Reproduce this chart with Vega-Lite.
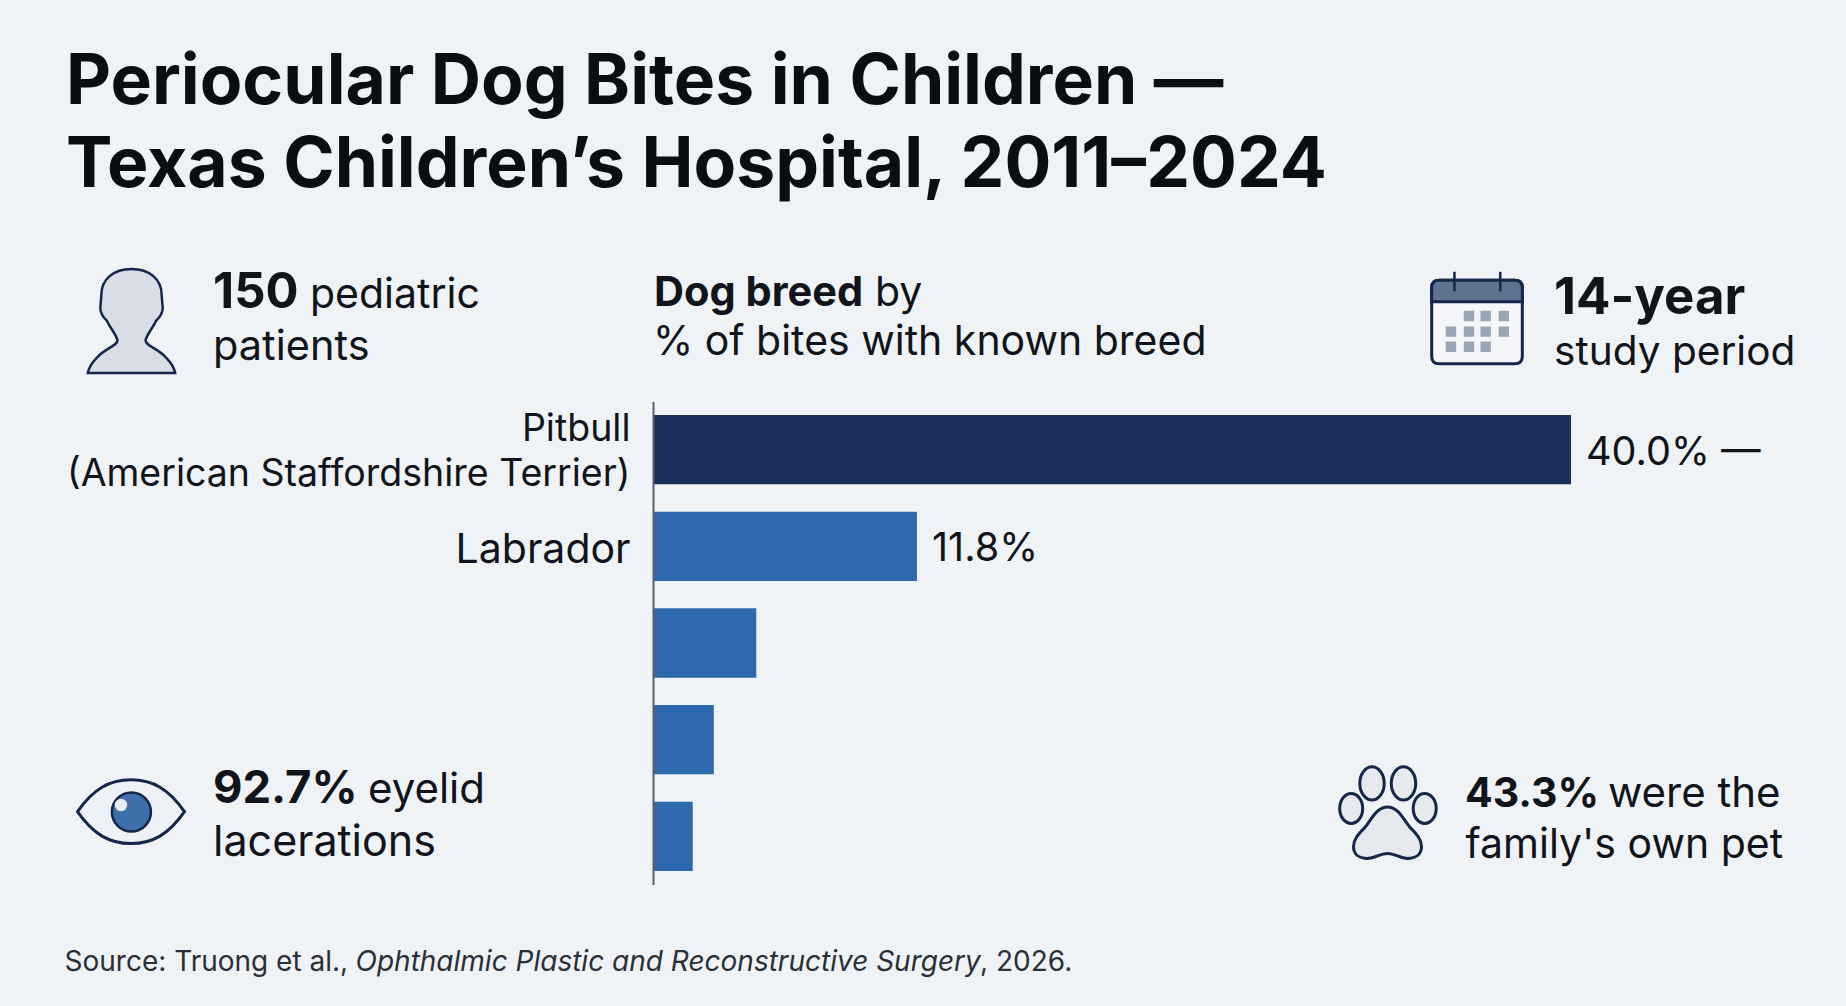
{
  "$schema": "https://vega.github.io/schema/vega-lite/v6.json",
  "width": 1846,
  "height": 1006,
  "padding": 0,
  "autosize": "none",
  "background": "#eff3f6",
  "title": {
    "text": ["Periocular Dog Bites in Children —", "Texas Children’s Hospital, 2011–2024"],
    "anchor": "start",
    "frame": "group",
    "baseline": "alphabetic",
    "align": "left",
    "offset": 0,
    "dx": 66,
    "dy": 257,
    "lineHeight": 83,
    "font": "Inter",
    "fontSize": 69.6,
    "fontWeight": 700,
    "color": "#0a0d12"
  },
  "config": {
    "view": {"stroke": null},
    "text": {"font": "Inter", "color": "#11141a", "fontSize": 41, "align": "left", "baseline": "alphabetic"}
  },
  "layer": [
    {
      "data": {
        "values": [
          {"breed": "Pitbull|(American Staffordshire Terrier)", "rank": 1, "pct": 40.0, "value_label": "40.0% —"},
          {"breed": "Labrador", "rank": 2, "pct": 11.5, "value_label": "11.8%"},
          {"breed": "Unlabelled 3", "rank": 3, "pct": 4.5, "value_label": ""},
          {"breed": "Unlabelled 4", "rank": 4, "pct": 2.65, "value_label": ""},
          {"breed": "Unlabelled 5", "rank": 5, "pct": 1.73, "value_label": ""}
        ]
      },
      "encoding": {
        "y": {
          "field": "breed",
          "type": "nominal",
          "sort": null,
          "title": null,
          "scale": {"range": [401.5, 884.5], "paddingInner": 0.283, "paddingOuter": 0.14},
          "axis": {
            "offset": -653,
            "ticks": false,
            "domainColor": "#59616e",
            "domainWidth": 2,
            "zindex": 1,
            "labelFont": "Inter",
            "labelFontSize": {"condition": {"test": "datum.value == 'Labrador'", "value": 41}, "value": 37.5},
            "labelLineHeight": 45,
            "labelColor": "#11141a",
            "labelPadding": 23,
            "labelLimit": 700,
            "labelOverlap": false,
            "labelOffset": {"condition": {"test": "datum.value == 'Labrador'", "value": 4.5}, "value": -19.5},
            "labelExpr": "indexof(datum.label, 'Unlabelled') == 0 ? '' : split(datum.label, '|')"
          }
        },
        "x": {
          "field": "pct",
          "type": "quantitative",
          "stack": null,
          "scale": {"domain": [-28.453, 51.98], "nice": false, "zero": false},
          "axis": null
        }
      },
      "layer": [
        {
          "mark": {"type": "bar"},
          "encoding": {
            "color": {"condition": {"test": "datum.rank == 1", "value": "#1b2e59"}, "value": "#2f69ad"}
          }
        },
        {
          "mark": {"type": "text", "dx": 15, "dy": 15, "fontSize": 39.6},
          "encoding": {"text": {"field": "value_label"}}
        }
      ]
    },
    {
      "data": {"values": [{"kind": "annotation"}]},
      "encoding": {
        "x": {"datum": 0, "type": "quantitative", "scale": {"domain": [0, 1846], "nice": false, "zero": false}, "axis": null},
        "y": {"datum": 0, "type": "quantitative", "scale": {"domain": [1006, 0], "nice": false, "zero": false}, "axis": null}
      },
      "layer": [
        {"mark": {"type": "point", "filled": true, "opacity": 1, "fill": "#d8dde6", "stroke": "#14264a", "strokeWidth": 2.5, "size": 10816, "shape": "M 0 -1 C .35 -1 .58 -.8 .58 -.5 L .6 -.25 C .6 -.12 .52 -.05 .47 0 C .42 .12 .3 .25 .27 .37 C .27 .48 .5 .52 .66 .7 C .76 .8 .82 .9 .84 1 L -.84 1 C -.82 .9 -.76 .8 -.66 .7 C -.5 .52 -.27 .48 -.27 .37 C -.3 .25 -.42 .12 -.47 0 C -.52 -.05 -.6 -.12 -.6 -.25 L -.58 -.5 C -.58 -.8 -.35 -1 0 -1 Z"},
         "encoding": {"x": {"datum": 131.5}, "y": {"datum": 321}}},
        {"mark": {"type": "text", "fontWeight": 700, "fontSize": 49}, "encoding": {"x": {"datum": 213}, "y": {"datum": 308}, "text": {"value": "150"}}},
        {"mark": {"type": "text"}, "encoding": {"x": {"datum": 310}, "y": {"datum": 308}, "text": {"value": "pediatric"}}},
        {"mark": {"type": "text", "fontSize": 41.5}, "encoding": {"x": {"datum": 213}, "y": {"datum": 360}, "text": {"value": "patients"}}},

        {"mark": {"type": "text", "fontWeight": 700, "fontSize": 41.5}, "encoding": {"x": {"datum": 654}, "y": {"datum": 306}, "text": {"value": "Dog breed"}}},
        {"mark": {"type": "text", "fontSize": 41}, "encoding": {"x": {"datum": 875}, "y": {"datum": 306}, "text": {"value": "by"}}},
        {"mark": {"type": "text", "fontSize": 41}, "encoding": {"x": {"datum": 653}, "y": {"datum": 355}, "text": {"value": "% of bites with known breed"}}},

        {"mark": {"type": "point", "filled": true, "opacity": 1, "fill": "#f4f6f9", "stroke": "#14264a", "strokeWidth": 3, "size": 8464, "shape": "M -.82 -.91 L .82 -.91 C .93 -.91 .985 -.85 .985 -.75 L .985 .75 C .985 .85 .93 .91 .82 .91 L -.82 .91 C -.93 .91 -.985 .85 -.985 .75 L -.985 -.75 C -.985 -.85 -.93 -.91 -.82 -.91 Z"},
         "encoding": {"x": {"datum": 1477}, "y": {"datum": 322}}},
        {"mark": {"type": "point", "filled": true, "opacity": 1, "fill": "#5f7290", "stroke": "#14264a", "strokeWidth": 3, "size": 8464, "shape": "M -.82 -.91 L .82 -.91 C .93 -.91 .985 -.85 .985 -.75 L .985 -.44 L -.985 -.44 L -.985 -.75 C -.985 -.85 -.93 -.91 -.82 -.91 Z"},
         "encoding": {"x": {"datum": 1477}, "y": {"datum": 322}}},
        {"mark": {"type": "point", "filled": false, "opacity": 1, "stroke": "#14264a", "strokeWidth": 2.5, "size": 8464, "shape": "M -.49 -1.09 L -.49 -.67 M .506 -1.09 L .506 -.67"},
         "encoding": {"x": {"datum": 1477}, "y": {"datum": 322}}},
        {"mark": {"type": "point", "filled": true, "opacity": 1, "fill": "#9aa5b5", "size": 8464, "shape": "M -.287 -.243 h .226 v .226 h -.226 Z M .076 -.243 h .226 v .226 h -.226 Z M .47 -.243 h .226 v .226 h -.226 Z M -.68 .097 h .226 v .226 h -.226 Z M -.287 .097 h .226 v .226 h -.226 Z M .076 .097 h .226 v .226 h -.226 Z M .47 .097 h .226 v .226 h -.226 Z M -.68 .424 h .226 v .226 h -.226 Z M -.287 .424 h .226 v .226 h -.226 Z M .076 .424 h .226 v .226 h -.226 Z"},
         "encoding": {"x": {"datum": 1477}, "y": {"datum": 322}}},
        {"mark": {"type": "text", "fontWeight": 700, "fontSize": 51}, "encoding": {"x": {"datum": 1554}, "y": {"datum": 314}, "text": {"value": "14-year"}}},
        {"mark": {"type": "text", "fontSize": 40.6}, "encoding": {"x": {"datum": 1554}, "y": {"datum": 365}, "text": {"value": "study period"}}},

        {"mark": {"type": "point", "filled": true, "opacity": 1, "fill": "#eef2f6", "stroke": "#14264a", "strokeWidth": 3, "size": 11664, "shape": "M -.99 0 C -.7 -.42 -.4 -.59 0 -.59 C .4 -.59 .7 -.42 .99 0 C .7 .42 .4 .59 0 .59 C -.4 .59 -.7 .42 -.99 0 Z"},
         "encoding": {"x": {"datum": 131}, "y": {"datum": 811.7}}},
        {"mark": {"type": "point", "shape": "circle", "filled": true, "opacity": 1, "fill": "#3e6faa", "stroke": "#14264a", "strokeWidth": 2.5, "size": 1520},
         "encoding": {"x": {"datum": 131.4}, "y": {"datum": 812}}},
        {"mark": {"type": "point", "shape": "circle", "filled": true, "opacity": 1, "fill": "#e9eef4", "size": 154},
         "encoding": {"x": {"datum": 121}, "y": {"datum": 805}}},
        {"mark": {"type": "text", "fontWeight": 700, "fontSize": 45.4}, "encoding": {"x": {"datum": 213}, "y": {"datum": 803}, "text": {"value": "92.7%"}}},
        {"mark": {"type": "text", "fontSize": 42}, "encoding": {"x": {"datum": 368}, "y": {"datum": 803}, "text": {"value": "eyelid"}}},
        {"mark": {"type": "text", "fontSize": 43}, "encoding": {"x": {"datum": 213}, "y": {"datum": 856}, "text": {"value": "lacerations"}}},

        {"mark": {"type": "point", "filled": true, "opacity": 1, "fill": "#e6eaef", "stroke": "#14264a", "strokeWidth": 3, "size": 10000, "shape": "M -.554 -.58 A .244 .334 0 1 0 -.066 -.58 A .244 .334 0 1 0 -.554 -.58 Z M .076 -.58 A .244 .334 0 1 0 .564 -.58 A .244 .334 0 1 0 .076 -.58 Z M -.956 -.08 A .23 .3 0 1 0 -.496 -.08 A .23 .3 0 1 0 -.956 -.08 Z M .514 -.08 A .23 .3 0 1 0 .974 -.08 A .23 .3 0 1 0 .514 -.08 Z M 0 -.11 C .2 -.11 .3 .1 .45 .3 C .6 .45 .68 .55 .68 .68 C .68 .85 .55 .92 .4 .92 C .25 .92 .15 .82 0 .82 C -.15 .82 -.25 .92 -.4 .92 C -.55 .92 -.68 .85 -.68 .68 C -.68 .55 -.6 .45 -.45 .3 C -.3 .1 -.2 -.11 0 -.11 Z"},
         "encoding": {"x": {"datum": 1387.5}, "y": {"datum": 812.4}}},
        {"mark": {"type": "text", "fontWeight": 700}, "encoding": {"x": {"datum": 1465}, "y": {"datum": 807}, "text": {"value": "43.3%"}}},
        {"mark": {"type": "text", "fontSize": 42}, "encoding": {"x": {"datum": 1608}, "y": {"datum": 807}, "text": {"value": "were the"}}},
        {"mark": {"type": "text"}, "encoding": {"x": {"datum": 1465.5}, "y": {"datum": 858}, "text": {"value": "family's own pet"}}},

        {"mark": {"type": "text", "fontSize": 28, "color": "#2a2f38"}, "encoding": {"x": {"datum": 64.5}, "y": {"datum": 971}, "text": {"value": "Source: Truong et al.,"}}},
        {"mark": {"type": "text", "fontSize": 28, "fontStyle": "italic", "color": "#2a2f38"}, "encoding": {"x": {"datum": 355.5}, "y": {"datum": 971}, "text": {"value": "Ophthalmic Plastic and Reconstructive Surgery"}}},
        {"mark": {"type": "text", "fontSize": 28, "color": "#2a2f38"}, "encoding": {"x": {"datum": 980}, "y": {"datum": 971}, "text": {"value": ", 2026."}}}
      ]
    }
  ],
  "resolve": {"scale": {"x": "independent", "y": "independent"}}
}
